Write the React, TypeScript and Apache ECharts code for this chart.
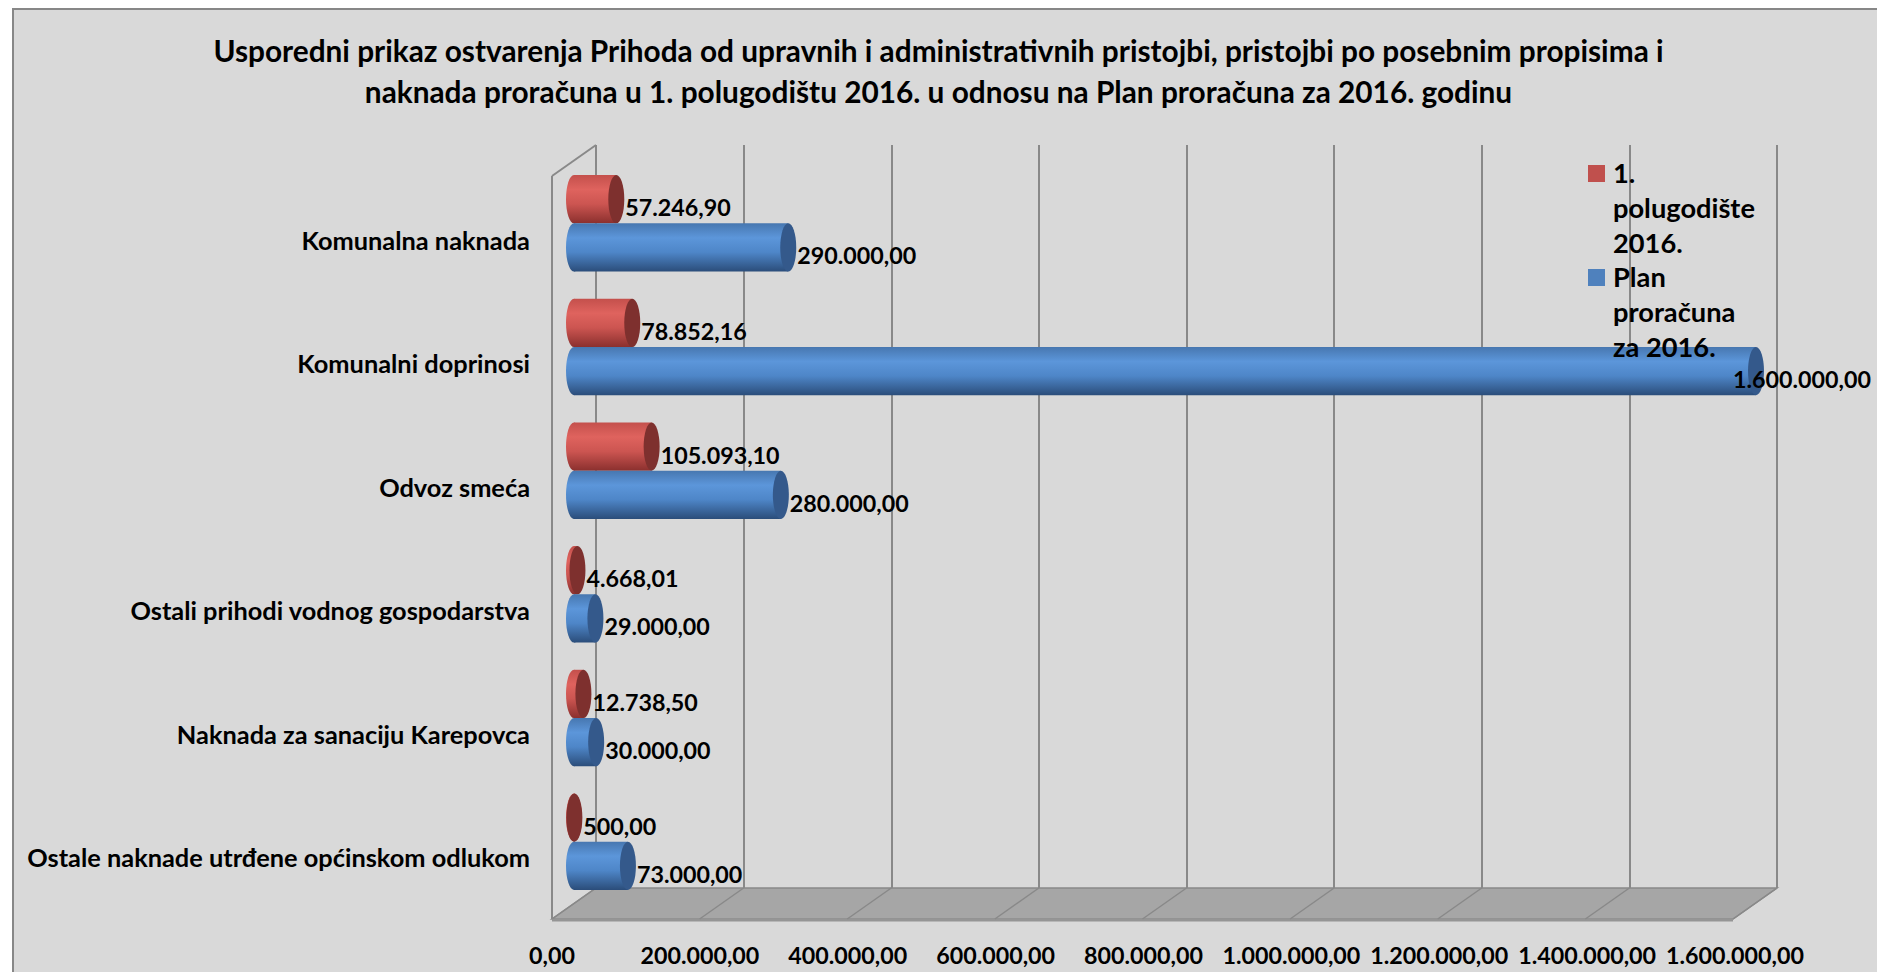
import React, { useEffect, useRef } from "react";
import * as echarts from "echarts";

// ---------- data ----------
const titleLines = [
  "Usporedni prikaz ostvarenja Prihoda od upravnih i administrativnih pristojbi, pristojbi po posebnim propisima i",
  "naknada proračuna u 1. polugodištu 2016. u odnosu na Plan proračuna za 2016. godinu",
];
const categories = [
  "Komunalna naknada",
  "Komunalni doprinosi",
  "Odvoz smeća",
  "Ostali prihodi vodnog gospodarstva",
  "Naknada za sanaciju Karepovca",
  "Ostale naknade utrđene općinskom odlukom",
];
const seriesNames = ["1. polugodište 2016.", "Plan proračuna za 2016."];
const legendLines = [
  ["1.", "polugodište", "2016."],
  ["Plan", "proračuna", "za 2016."],
];
const halfYear = [57246.9, 78852.16, 105093.1, 4668.01, 12738.5, 500];
const plan = [290000, 1600000, 280000, 29000, 30000, 73000];
const axisTicks = [0, 200000, 400000, 600000, 800000, 1000000, 1200000, 1400000, 1600000];
const AXIS_MAX = 1600000;
const AXIS_STEP = 200000;

// ---------- style / layout ----------
const W = 1877;
const H = 972;
const FONT = "Lato, 'Open Sans', sans-serif";
const DX = -44; // depth offset back -> front
const DY = 31;
const BACK = { left: 596, right: W - 1777, top: 145, bottom: H - 888 };
const MID = { left: 574, right: W - 1756, top: 161.5, bottom: H - 903.5 };
const FRONT = { left: 552, right: W - 1735, top: 178, bottom: H - 919 };
const RX = 8;
const BAR_FRAC = 0.39;
const GRID_COLOR = "#898989";

const fmt = (v: number) => {
  const [i, d] = v.toFixed(2).split(".");
  return i.replace(/\B(?=(\d{3})+(?!\d))/g, ".") + "," + d;
};

let measureCtx: CanvasRenderingContext2D | null = null;
const measure = (text: string, size: number) => {
  if (!measureCtx) measureCtx = document.createElement("canvas").getContext("2d");
  measureCtx!.font = `bold ${size}px ${FONT}`;
  return measureCtx!.measureText(text).width;
};
const fit = (text: string, target: number) => (100 * target) / measure(text, 100);

const barStyles = [
  {
    stops: [
      [0, "#c4504c"],
      [0.3, "#df635e"],
      [0.6, "#cc5551"],
      [1, "#8b302e"],
    ],
    cap: "#7e302e",
    legend: "#c0504d",
  },
  {
    stops: [
      [0, "#4777b0"],
      [0.3, "#5c96da"],
      [0.6, "#4e86c8"],
      [1, "#2b4d7a"],
    ],
    cap: "#34598b",
    legend: "#4f81bd",
  },
];

export default function App() {
  const ref = useRef<HTMLDivElement>(null);

  useEffect(() => {
    if (!ref.current) return;
    const chart = echarts.init(ref.current, undefined, { renderer: "svg" });

    const titleSize = fit(titleLines[0], 1451);
    const tickSize = fit("200.000,00", 119);
    const catSize = fit(categories[5], 503);
    const legendSize = fit("polugodište", 142);
    const valueSize = tickSize;

    const makeBars = (k: number, values: number[]) => {
      const st = barStyles[k];
      return {
        type: "custom",
        name: seriesNames[k],
        xAxisIndex: 1,
        yAxisIndex: 1,
        z: 3,
        data: values.map((v, i) => [v, i]),
        encode: { x: 0, y: 1 },
        renderItem: (params: any, api: any) => {
          const v = api.value(0);
          const ci = api.value(1);
          const p0 = api.coord([0, ci]);
          const p1 = api.coord([v, ci]);
          const band = api.size([0, 1])[1];
          const h = band * BAR_FRAC;
          const cy = k === 0 ? p0[1] - h / 2 : p0[1] + h / 2;
          const grad = new echarts.graphic.LinearGradient(
            0,
            0,
            0,
            1,
            st.stops.map((s) => ({ offset: s[0] as number, color: s[1] as string }))
          );
          const label = fmt(v);
          const lw = measure(label, valueSize);
          let lx = p1[0] + RX + 1;
          if (lx + lw > W - 6) lx = W - 6 - lw;
          return {
            type: "group",
            children: [
              {
                type: "ellipse",
                shape: { cx: p0[0], cy, rx: RX, ry: h / 2 },
                style: { fill: grad },
              },
              {
                type: "rect",
                shape: { x: p0[0], y: cy - h / 2, width: Math.max(0, p1[0] - p0[0]), height: h },
                style: { fill: grad },
              },
              {
                type: "ellipse",
                shape: { cx: p1[0], cy, rx: RX, ry: h / 2 },
                style: { fill: st.cap },
              },
              {
                type: "text",
                x: lx,
                y: cy + 8,
                z2: 10,
                style: {
                  text: label,
                  fill: "#000",
                  fontSize: valueSize,
                  fontWeight: "bold",
                  fontFamily: FONT,
                  align: "left",
                  verticalAlign: "middle",
                },
              },
            ],
          };
        },
      };
    };

    const legendElements: any[] = [];
    legendLines.forEach((lines, k) => {
      const top = 155 + k * 104;
      legendElements.push({
        type: "rect",
        z: 100,
        shape: { x: 1588, y: top + 10, width: 17, height: 17 },
        style: { fill: barStyles[k].legend },
      });
      legendElements.push({
        type: "text",
        z: 100,
        x: 1613,
        y: top,
        style: {
          text: lines.join("\n"),
          fill: "#000",
          fontSize: legendSize,
          fontWeight: "bold",
          fontFamily: FONT,
          lineHeight: 35,
          align: "left",
          verticalAlign: "top",
        },
      });
    });

    chart.setOption({
      animation: false,
      backgroundColor: "transparent",
      title: {
        text: titleLines.join("\n"),
        left: "center",
        top: 30,
        padding: 0,
        textStyle: {
          fontSize: titleSize,
          fontWeight: "bold",
          fontFamily: FONT,
          color: "#000",
          lineHeight: 41,
        },
      },
      grid: [
        { ...BACK, containLabel: false },
        { ...MID, containLabel: false },
        { ...FRONT, containLabel: false },
      ],
      xAxis: [
        {
          gridIndex: 0,
          type: "value",
          min: 0,
          max: AXIS_MAX,
          interval: AXIS_STEP,
          axisLabel: { show: false },
          axisLine: { show: false },
          axisTick: { show: false },
          splitLine: { show: true, lineStyle: { color: GRID_COLOR, width: 2 } },
        },
        { gridIndex: 1, type: "value", min: 0, max: AXIS_MAX, show: false },
        {
          gridIndex: 2,
          type: "value",
          min: 0,
          max: AXIS_MAX,
          interval: AXIS_STEP,
          axisLine: { show: false },
          axisTick: { show: false },
          splitLine: { show: false },
          axisLabel: {
            formatter: (v: number) => fmt(v),
            margin: 36,
            verticalAlign: "middle",
            color: "#000",
            fontWeight: "bold",
            fontFamily: FONT,
            fontSize: tickSize,
          },
        },
      ],
      yAxis: [
        { gridIndex: 0, type: "value", min: 0, max: 1, show: false },
        { gridIndex: 1, type: "category", data: categories, inverse: true, show: false },
        {
          gridIndex: 2,
          type: "category",
          data: categories,
          inverse: true,
          axisLine: { show: false },
          axisTick: { show: false },
          splitLine: { show: false },
          axisLabel: {
            margin: 22,
            color: "#000",
            fontWeight: "bold",
            fontFamily: FONT,
            fontSize: catSize,
          },
        },
      ],
      graphic: { elements: legendElements },
      series: [
        {
          type: "custom",
          name: "floor",
          xAxisIndex: 0,
          yAxisIndex: 0,
          silent: true,
          data: [[0, AXIS_MAX]],
          encode: { x: [0, 1] },
          renderItem: (params: any, api: any) => {
            const a = api.coord([api.value(0), 0]);
            const b = api.coord([api.value(1), 0]);
            const t = api.coord([api.value(0), 1]);
            return {
              type: "group",
              children: [
                {
                  type: "polygon",
                  shape: {
                    points: [
                      [a[0], a[1]],
                      [b[0], b[1]],
                      [b[0] + DX, b[1] + DY],
                      [a[0] + DX, a[1] + DY],
                    ],
                  },
                  style: { fill: "#a6a6a6", stroke: GRID_COLOR, lineWidth: 1.5 },
                },
                {
                  type: "line",
                  shape: { x1: a[0] + DX, y1: a[1] + DY + 1, x2: b[0] + DX, y2: b[1] + DY + 1 },
                  style: { stroke: "#959595", lineWidth: 3 },
                },
                {
                  type: "line",
                  shape: { x1: t[0], y1: t[1], x2: t[0] + DX, y2: t[1] + DY },
                  style: { stroke: GRID_COLOR, lineWidth: 2 },
                },
                {
                  type: "line",
                  shape: { x1: t[0] + DX, y1: t[1] + DY, x2: a[0] + DX, y2: a[1] + DY },
                  style: { stroke: GRID_COLOR, lineWidth: 2 },
                },
              ],
            };
          },
        },
        {
          type: "custom",
          name: "floorLines",
          xAxisIndex: 0,
          yAxisIndex: 0,
          silent: true,
          data: axisTicks.map((t) => [t, 0]),
          encode: { x: 0, y: 1 },
          renderItem: (params: any, api: any) => {
            const p = api.coord([api.value(0), 0]);
            return {
              type: "line",
              shape: { x1: p[0], y1: p[1], x2: p[0] + DX, y2: p[1] + DY },
              style: { stroke: GRID_COLOR, lineWidth: 1.5 },
            };
          },
        },
        makeBars(0, halfYear),
        makeBars(1, plan),
      ],
    });

    return () => chart.dispose();
  }, []);

  return (
    <div style={{ position: "fixed", left: 0, top: 0, width: W, height: H, background: "#fff", overflow: "hidden" }}>
      <div
        style={{
          position: "absolute",
          left: 12,
          top: 8,
          width: W,
          height: H,
          background: "#d9d9d9",
          borderLeft: "2px solid #878787",
          borderTop: "2px solid #878787",
        }}
      />
      <div ref={ref} style={{ position: "absolute", left: 0, top: 0, width: W, height: H }} />
    </div>
  );
}
